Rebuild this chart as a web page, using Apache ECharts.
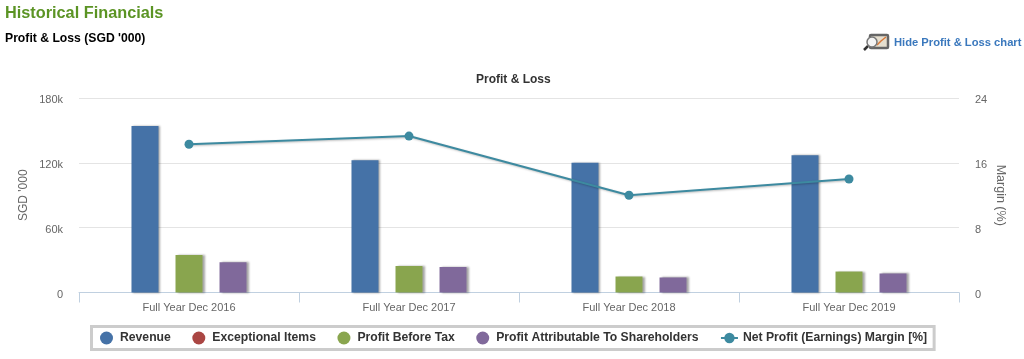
<!DOCTYPE html>
<html>
<head>
<meta charset="utf-8">
<style>
html,body{margin:0;padding:0;background:#fff}
#main{width:1024px;height:359px}
</style>
<script src="https://cdn.jsdelivr.net/npm/echarts@6/dist/echarts.min.js"></script>
</head>
<body>
<div id="main"></div>
<script>
var categories=['Full Year Dec 2016','Full Year Dec 2017','Full Year Dec 2018','Full Year Dec 2019']
var revenue=[154000,122500,120000,127000]
var exceptional=[null,null,null,null]
var profitBeforeTax=[34700,24500,14800,19400]
var profitShareholders=[28000,23600,13900,17600]
var netMargin=[18.3,19.3,12.0,14.0]
var leftTicks=['0','60k','120k','180k']
var font='"Liberation Sans",Arial,sans-serif'

//柱子样式
function barStyle(color){
    return {color:color,shadowColor:'rgba(0,0,0,0.35)',shadowBlur:2,shadowOffsetX:2,shadowOffsetY:0}
}

var myChart=echarts.init(document.getElementById('main'),null,{renderer:'canvas'})
var option={
    animation:false,
    textStyle:{fontFamily:font},
    title:[
        {text:'Historical Financials',left:5,top:6,padding:0,textStyle:{color:'#5b9424',fontSize:16.3,fontWeight:'bold',fontFamily:font}},
        {text:"Profit & Loss (SGD '000)",left:5,top:33,padding:0,textStyle:{color:'#000',fontSize:12.2,fontWeight:'bold',fontFamily:font}},
        {text:'Hide Profit & Loss chart',left:894,top:37,padding:0,textStyle:{color:'#3a78bd',fontSize:11.2,fontWeight:'bold',fontFamily:font}},
        {text:'Profit & Loss',left:476,top:74,padding:0,textStyle:{color:'#333',fontSize:12,fontWeight:'bold',fontFamily:font}}
    ],
    grid:{left:79,right:65,top:98,bottom:66.5},
    legend:{
        left:91.5,top:326.5,
        width:840,
        padding:[5,7,5,8.5],
        backgroundColor:'#fff',
        borderColor:'#ccc',borderWidth:3,borderRadius:0,
        itemWidth:17,itemHeight:13,itemGap:21.5,
        textStyle:{color:'#333',fontSize:12.2,fontWeight:'bold',fontFamily:font},
        data:[
            {name:'Revenue',icon:'circle'},
            {name:'Exceptional Items',icon:'circle'},
            {name:'Profit Before Tax',icon:'circle'},
            {name:'Profit Attributable To Shareholders',icon:'circle'},
            {name:'Net Profit (Earnings) Margin [%]'}
        ]
    },
    xAxis:{
        type:'category',
        data:categories,
        axisLine:{lineStyle:{color:'#c0d0e0',width:1}},
        axisTick:{show:true,length:10,lineStyle:{color:'#c0d0e0'}},
        axisLabel:{color:'#666',fontSize:11,margin:10,fontFamily:font}
    },
    yAxis:[
        {
            type:'value',min:0,max:180000,interval:60000,
            name:"SGD '000",nameLocation:'middle',nameGap:49.5,nameRotate:90,nameMoveOverlap:false,
            nameTextStyle:{color:'#666',fontSize:12,fontFamily:font},
            axisLine:{show:false},axisTick:{show:false},
            splitLine:{lineStyle:{color:'#e4e4e4'}},
            axisLabel:{color:'#666',fontSize:11,margin:16,verticalAlign:'top',lineHeight:4,fontFamily:font,formatter:function(v){return leftTicks[v/60000]}}
        },
        {
            type:'value',min:0,max:24,interval:8,
            name:'Margin (%)',nameLocation:'middle',nameGap:35,nameRotate:-90,nameMoveOverlap:false,
            nameTextStyle:{color:'#666',fontSize:12.5,fontFamily:font},
            axisLine:{show:false},axisTick:{show:false},splitLine:{show:false},
            axisLabel:{color:'#666',fontSize:11,margin:16,verticalAlign:'top',lineHeight:4,fontFamily:font}
        }
    ],
    series:[
        {name:'Revenue',type:'bar',stack:'a',data:revenue,barWidth:27,barGap:'63%',itemStyle:barStyle('#4572a7')},
        {name:'Exceptional Items',type:'bar',stack:'a',data:exceptional,barWidth:27,itemStyle:{color:'#aa4643'}},
        {name:'Profit Before Tax',type:'bar',data:profitBeforeTax,barWidth:27,barGap:'63%',itemStyle:barStyle('#89a54e')},
        {name:'Profit Attributable To Shareholders',type:'bar',data:profitShareholders,barWidth:27,barGap:'63%',itemStyle:barStyle('#80699b')},
        {
            name:'Net Profit (Earnings) Margin [%]',type:'line',yAxisIndex:1,data:netMargin,
            symbol:'circle',symbolSize:9,z:5,
            lineStyle:{color:'#3d8aa0',width:2,shadowColor:'rgba(0,0,0,0.25)',shadowBlur:2,shadowOffsetX:1,shadowOffsetY:1},
            itemStyle:{color:'#3d8aa0'}
        }
    ],
    graphic:[
        //放大镜小图标
        {type:'rect',shape:{x:870,y:35,width:18,height:13,r:1},style:{fill:'#e6dfcf',stroke:'#666',lineWidth:2.5}},
        {type:'polyline',shape:{points:[[877,45],[881,41],[886,37]]},style:{fill:null,stroke:'#d9793a',lineWidth:1.5}},
        {type:'circle',shape:{cx:872,cy:42,r:5},style:{fill:'#f4f4f4',stroke:'#777',lineWidth:1.5}},
        {type:'line',shape:{x1:868,y1:46,x2:864,y2:50},style:{stroke:'#333',lineWidth:2.5}}
    ]
}
myChart.setOption(option)
</script>
</body>
</html>
